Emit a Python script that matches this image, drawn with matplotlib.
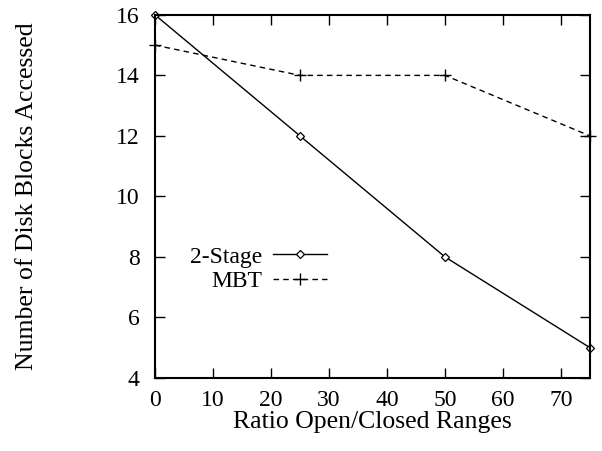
import matplotlib.pyplot as plt

plt.rcParams['font.family'] = ['Liberation Serif', 'DejaVu Serif']

ratio = [0, 25, 50, 75]
two_stage = [16, 12, 8, 5]
mbt = [15, 14, 14, 12]

fig = plt.figure(figsize=(6.02, 4.51), dpi=100)
ax = fig.add_axes([0.2575, 0.162, 0.7225, 0.805])

ax.plot(ratio, two_stage, color='black', linewidth=1, marker='D', markersize=4.5,
        markerfacecolor='white', markeredgewidth=0.9, label='2-Stage', clip_on=False)
ax.plot(ratio, mbt, color='black', linewidth=1, linestyle=(0, (4, 3)), marker='+',
        markersize=8, markeredgewidth=1, label='MBT', clip_on=False)

ax.set_xlim(0, 75)
ax.set_ylim(4, 16)
ax.set_xticks(range(0, 71, 10))
ax.set_yticks(range(4, 17, 2))
ax.tick_params(direction='in', length=7, width=1, top=True, right=True, labelsize=17)
ax.tick_params(axis='x', pad=9)
ax.tick_params(axis='y', pad=11)
for s in ax.spines.values():
    s.set_linewidth(1.5)

ax.set_xlabel('Ratio Open/Closed Ranges', fontsize=18.5, labelpad=0)
ax.set_ylabel('Number of Disk Blocks Accessed', fontsize=18.5, labelpad=56)

ax.legend(loc='upper left', bbox_to_anchor=(0.059, 0.389), frameon=False, markerfirst=False,
          fontsize=17, handlelength=2.3, handletextpad=0.45, labelspacing=0.12,
          borderaxespad=0)

plt.savefig('out.png', dpi=100)
